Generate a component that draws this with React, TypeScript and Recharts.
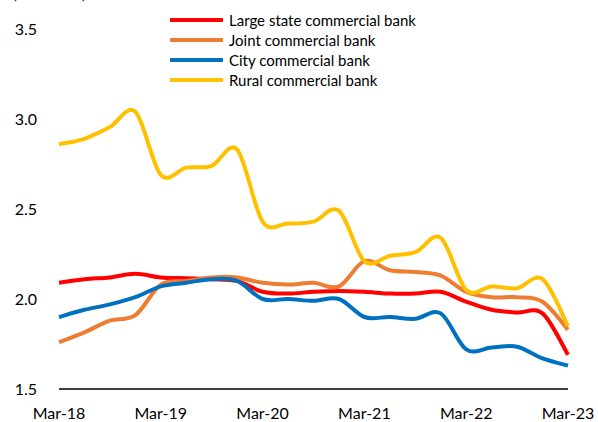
import React from 'react';
import { LineChart, Line, XAxis, YAxis } from 'recharts';

// quarterly, Mar-18 .. Mar-23
const quarters = [
  'Mar-18', 'Jun-18', 'Sep-18', 'Dec-18',
  'Mar-19', 'Jun-19', 'Sep-19', 'Dec-19',
  'Mar-20', 'Jun-20', 'Sep-20', 'Dec-20',
  'Mar-21', 'Jun-21', 'Sep-21', 'Dec-21',
  'Mar-22', 'Jun-22', 'Sep-22', 'Dec-22',
  'Mar-23',
];

const largeState = [2.09, 2.11, 2.12, 2.14, 2.12, 2.115, 2.11, 2.1, 2.04, 2.03, 2.04, 2.045, 2.04, 2.03, 2.03, 2.04, 1.985, 1.94, 1.925, 1.92, 1.69];
const jointStock = [1.76, 1.815, 1.88, 1.91, 2.08, 2.1, 2.12, 2.12, 2.09, 2.08, 2.09, 2.07, 2.21, 2.16, 2.15, 2.13, 2.04, 2.01, 2.01, 1.985, 1.83];
const city = [1.9, 1.94, 1.97, 2.01, 2.07, 2.09, 2.11, 2.1, 2.0, 2.0, 1.99, 2.0, 1.9, 1.9, 1.89, 1.92, 1.72, 1.73, 1.735, 1.67, 1.63];
const rural = [2.86, 2.89, 2.955, 3.04, 2.69, 2.73, 2.74, 2.83, 2.43, 2.42, 2.43, 2.49, 2.21, 2.24, 2.26, 2.34, 2.05, 2.07, 2.06, 2.11, 1.85];

const yTicks = [1.5, 2.0, 2.5, 3.0, 3.5];

const series = [
  { key: 'large', name: 'Large state commercial bank', color: '#FF0000' },
  { key: 'joint', name: 'Joint commercial bank', color: '#ED7D31' },
  { key: 'city', name: 'City commercial bank', color: '#0070C0' },
  { key: 'rural', name: 'Rural commercial bank', color: '#FFC000' },
];

const data = quarters.map((q, i) => ({
  q,
  large: largeState[i],
  joint: jointStock[i],
  city: city[i],
  rural: rural[i],
}));

const FONT = 'Lato, "Open Sans", sans-serif';

// excel-ish smoothed line (catmull-rom through each point)
function excelSmooth(context: any) {
  let pts: number[][] = [];
  return {
    areaStart() {},
    areaEnd() {},
    lineStart() {
      pts = [];
    },
    point(x: number, y: number) {
      pts.push([+x, +y]);
    },
    lineEnd() {
      if (!pts.length) return;
      context.moveTo(pts[0][0], pts[0][1]);
      for (let i = 0; i < pts.length - 1; i++) {
        const p0 = pts[i - 1] || pts[i];
        const p1 = pts[i];
        const p2 = pts[i + 1];
        const p3 = pts[i + 2] || p2;
        context.bezierCurveTo(
          p1[0] + (p2[0] - p0[0]) / 6,
          p1[1] + (p2[1] - p0[1]) / 6,
          p2[0] - (p3[0] - p1[0]) / 6,
          p2[1] - (p3[1] - p1[1]) / 6,
          p2[0],
          p2[1],
        );
      }
    },
  };
}

function LegendBox() {
  return (
    <div
      style={{
        position: 'absolute',
        left: 170,
        top: 10,
        fontFamily: FONT,
        fontSize: 15,
        color: '#000',
        lineHeight: '20px',
      }}
    >
      {series.map((s) => (
        <div key={s.key} style={{ display: 'flex', alignItems: 'center', height: 20 }}>
          <svg width={53} height={6} style={{ marginRight: 6 }}>
            <line x1={1} y1={3} x2={52} y2={3} stroke={s.color} strokeWidth={4} strokeLinecap="round" />
          </svg>
          <span>{s.name}</span>
        </div>
      ))}
    </div>
  );
}

export default function App() {
  return (
    <div style={{ position: 'absolute', left: 0, top: 0, width: 598, height: 422, background: '#fff', overflow: 'hidden' }}>
      {/* unit label, mostly cropped off the top like the source */}
      <div
        style={{
          position: 'absolute',
          left: 12,
          top: -17,
          fontFamily: FONT,
          fontSize: 18,
          lineHeight: '18px',
          color: '#1F3C88',
          whiteSpace: 'nowrap',
        }}
      >
        (Per cent)
      </div>
      <LineChart width={598} height={422} data={data} margin={{ top: 29, right: 30, bottom: 0, left: 0 }}>
        <XAxis
          dataKey="q"
          interval={3}
          height={33}
          tickLine={false}
          axisLine={{ stroke: '#000', strokeWidth: 1.5 }}
          tickMargin={13}
          tick={{ fill: '#000', fontSize: 16, fontFamily: FONT }}
        />
        <YAxis
          domain={[1.5, 3.5]}
          ticks={yTicks}
          width={59}
          axisLine={false}
          tickLine={false}
          tickMargin={16}
          tickFormatter={(v: number) => v.toFixed(1)}
          tick={{ fill: '#000', fontSize: 16, fontFamily: FONT }}
        />
        {series.map((s) => (
          <Line
            key={s.key}
            dataKey={s.key}
            name={s.name}
            type={excelSmooth as any}
            stroke={s.color}
            strokeWidth={4}
            dot={false}
            activeDot={false}
            isAnimationActive={false}
          />
        ))}
      </LineChart>
      <LegendBox />
    </div>
  );
}
